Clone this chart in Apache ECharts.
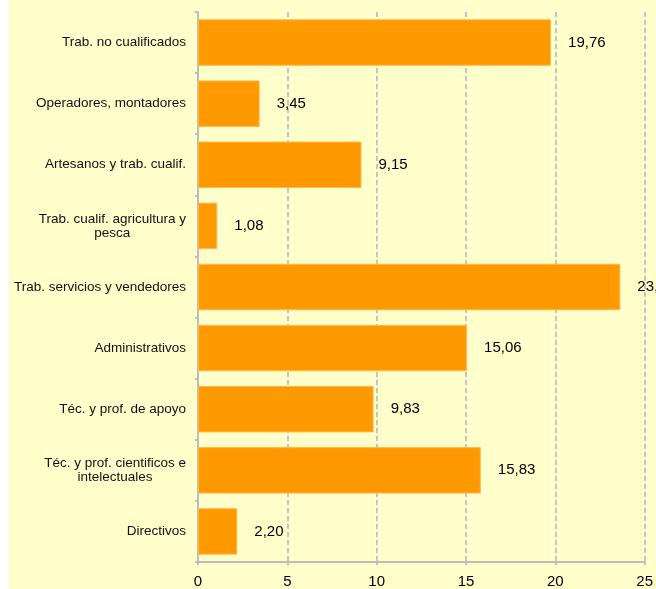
<!DOCTYPE html>
<html>
<head>
<meta charset="utf-8">
<script src="https://cdn.jsdelivr.net/npm/echarts@6/dist/echarts.min.js"></script>
<style>
    html, body { margin: 0; padding: 0; background: #ffffff; }
    #chart { position: absolute; left: 9px; top: 0; width: 647px; height: 589px; }
</style>
</head>
<body>
<div id="chart"></div>
<script>
// categorías de arriba hacia abajo
var categorias = [
    'Trab. no cualificados',
    'Operadores, montadores',
    'Artesanos y trab. cualif.',
    'Trab. cualif. agricultura y\npesca',
    'Trab. servicios y vendedores',
    'Administrativos',
    'Téc. y prof. de apoyo',
    'Téc. y prof. cientificos e\nintelectuales',
    'Directivos'
];
var valores = [19.76, 3.45, 9.15, 1.08, 23.64, 15.06, 9.83, 15.83, 2.20];
var ejeMin = 0;
var ejeMax = 25;
var ejePaso = 5;

var chart = echarts.init(document.getElementById('chart'));
var option = {
    backgroundColor: '#FFFFCC',
    animation: false,
    textStyle: { fontFamily: 'Liberation Sans, Arial, sans-serif' },
    grid: {
        left: 189,
        right: 8,
        top: 12,
        bottom: 26,
        containLabel: false
    },
    xAxis: {
        type: 'value',
        min: ejeMin,
        max: ejeMax,
        interval: ejePaso,
        axisLine: { show: true, lineStyle: { color: '#BDBDBD', width: 2 } },
        axisTick: { show: true, length: 3, lineStyle: { color: '#BDBDBD', width: 2 } },
        axisLabel: { color: '#000', fontSize: 15, margin: 12 },
        splitLine: {
            show: true,
            lineStyle: { color: '#C4C4C4', width: 2, type: [5, 3] }
        }
    },
    yAxis: {
        type: 'category',
        inverse: true,
        data: categorias,
        axisLine: { show: true, lineStyle: { color: '#BDBDBD', width: 2 } },
        axisTick: { show: true, length: 3, lineStyle: { color: '#BDBDBD', width: 2 } },
        axisLabel: {
            color: '#111',
            fontSize: 13.5,
            margin: 12,
            formatter: function(v) {
                return v.split('\n').map(function(l) { return '{c|' + l + '}'; }).join('\n');
            },
            rich: {
                c: { align: 'center', fontSize: 13.5, lineHeight: 14, color: '#111' }
            }
        },
        splitLine: { show: false }
    },
    series: [{
        type: 'bar',
        data: valores,
        barCategoryGap: '24%',
        itemStyle: { color: '#FF9900', borderColor: '#FFB84D', borderWidth: 1 },
        label: {
            show: true,
            position: 'right',
            distance: 17,
            color: '#000',
            fontSize: 15,
            formatter: function(p) {
                return p.value.toFixed(2).replace('.', ',');
            }
        }
    }]
};
chart.setOption(option);
</script>
</body>
</html>
